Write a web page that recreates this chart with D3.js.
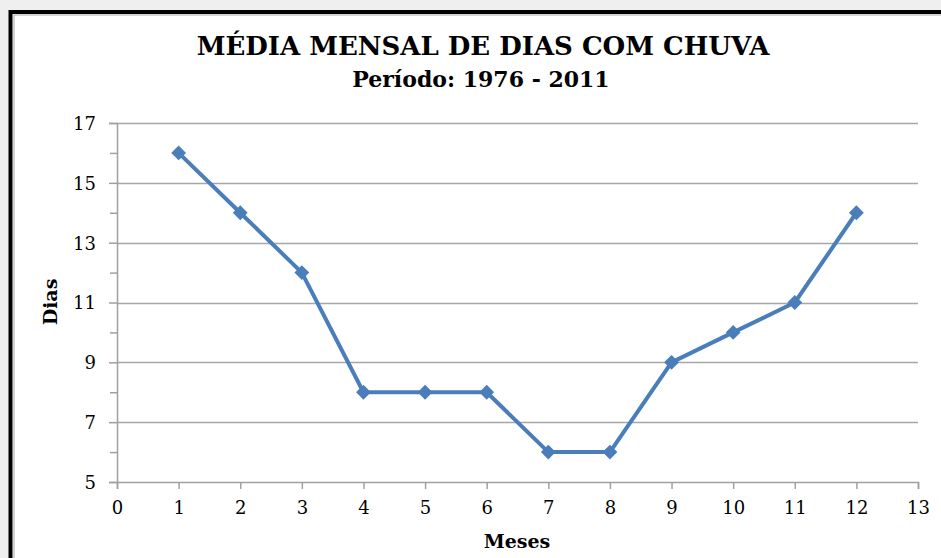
<!DOCTYPE html>
<html lang="pt">
<head>
    <meta charset="UTF-8">
    <title>Média mensal de dias com chuva</title>
    <script src="https://d3js.org/d3.v7.min.js"></script>
    <style>
        body { margin: 0; background: #efefef; }
        svg { display: block; }
        .title { font-family: "DejaVu Serif", serif; font-weight: bold; fill: #000; }
        .tick text { font-family: "DejaVu Serif", serif; font-size: 18px; fill: #000; }
        .axis-label { font-family: "DejaVu Serif", serif; font-weight: bold; font-size: 19px; }
    </style>
</head>
<body>
<svg width="941" height="558"></svg>

<script>
    // data
    const meses = [1, 2, 3, 4, 5, 6, 7, 8, 9, 10, 11, 12];
    const dias = [16, 14, 12, 8, 8, 8, 6, 6, 9, 10, 11, 14];
    const xTicks = d3.range(0, 14);
    const yTicks = [5, 7, 9, 11, 13, 15, 17];
    const yMinor = [6, 8, 10, 12, 14, 16];

    const svg = d3.select("svg");

    // chart frame
    svg.append("rect")
        .attr("x", 10.5).attr("y", 12).attr("width", 940).attr("height", 560)
        .attr("fill", "#fff").attr("stroke", "#000").attr("stroke-width", 4);
    svg.append("rect")
        .attr("x", 14).attr("y", 15).attr("width", 940).attr("height", 560)
        .attr("fill", "none").attr("stroke", "#aaa").attr("stroke-width", 1);

    const x = d3.scaleLinear().domain([0, 13]).range([117, 918]);
    const y = d3.scaleLinear().domain([5, 17]).range([482, 123]);

    // gridlines
    svg.append("g")
        .selectAll("line")
        .data(yTicks.slice(1))
        .join("line")
        .attr("x1", x(0)).attr("x2", x(13))
        .attr("y1", d => Math.round(y(d)) + 0.5)
        .attr("y2", d => Math.round(y(d)) + 0.5)
        .attr("stroke", "#a6a6a6").attr("stroke-width", 1.5);

    // y axis
    const yAxis = svg.append("g")
        .attr("transform", `translate(${x(0)},0)`)
        .call(d3.axisLeft(y).tickValues(yTicks).tickSize(8).tickPadding(13));
    yAxis.selectAll(".tick text").attr("dy", "0.36em");
    svg.append("g")
        .attr("transform", `translate(${x(0)},0)`)
        .call(d3.axisLeft(y).tickValues(yMinor).tickSize(7).tickFormat(""))
        .select(".domain").remove();

    // x axis
    svg.append("g")
        .attr("transform", `translate(0,${y(5)})`)
        .call(d3.axisBottom(x).tickValues(xTicks).tickSize(7).tickPadding(12));

    svg.selectAll(".domain, .tick line")
        .attr("stroke", "#a0a0a0").attr("stroke-width", 1.5);

    // series
    const line = d3.line().x((d, i) => x(meses[i])).y(d => y(d));
    svg.append("path")
        .datum(dias)
        .attr("d", line)
        .attr("fill", "none")
        .attr("stroke", "#4a7ebb")
        .attr("stroke-width", 4)
        .attr("stroke-linejoin", "round");

    const diamond = d3.symbol().type(d3.symbolSquare).size(110);
    svg.append("g")
        .selectAll("path")
        .data(dias)
        .join("path")
        .attr("d", diamond)
        .attr("transform", (d, i) => `translate(${x(meses[i])},${y(d)}) rotate(45)`)
        .attr("fill", "#4a7ebb");

    // titles
    svg.append("text").attr("class", "title")
        .attr("x", 483).attr("y", 55)
        .attr("text-anchor", "middle")
        .attr("font-size", 26)
        .text("MÉDIA MENSAL DE DIAS COM CHUVA");
    svg.append("text").attr("class", "title")
        .attr("x", 481).attr("y", 87)
        .attr("text-anchor", "middle")
        .attr("font-size", 22)
        .text("Período: 1976 - 2011");

    svg.append("text").attr("class", "axis-label")
        .attr("text-anchor", "middle")
        .attr("transform", "translate(57,302) rotate(-90)")
        .text("Dias");
    svg.append("text").attr("class", "axis-label")
        .attr("text-anchor", "middle")
        .attr("x", 517).attr("y", 548)
        .text("Meses");
</script>
</body>
</html>
